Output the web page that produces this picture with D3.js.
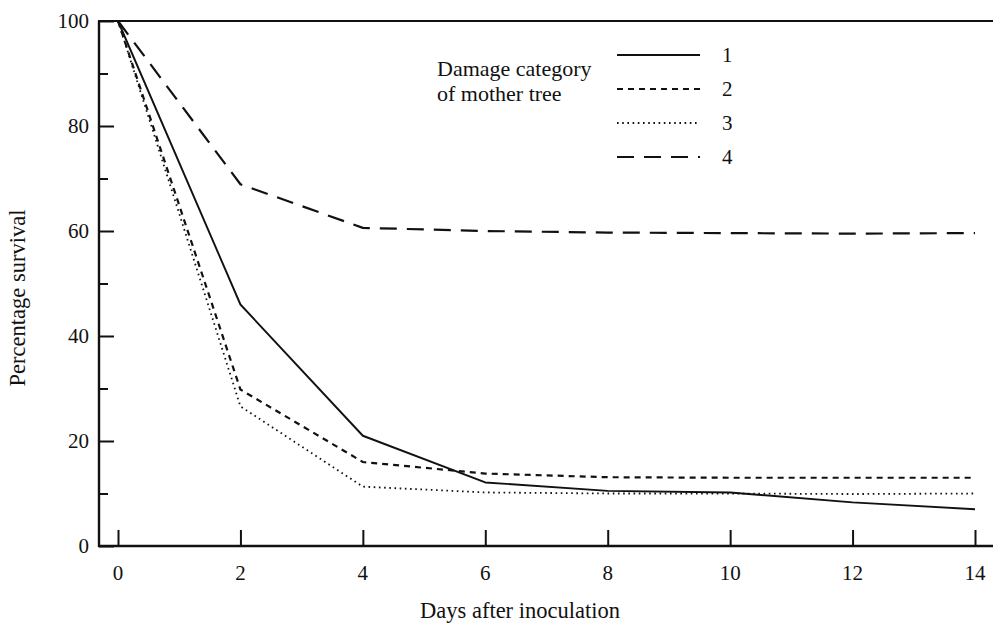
<!DOCTYPE html>
<html>
<head>
<meta charset="utf-8">
<script src="https://cdn.jsdelivr.net/npm/d3@7/dist/d3.min.js"></script>
<style>
  html, body { margin: 0; padding: 0; background: #fff; }
  svg { display: block; }
  text { font-family: "Liberation Serif", "DejaVu Serif", serif; fill: #111; }
</style>
</head>
<body>
<svg id="chart" width="993" height="628"></svg>
<script>
// ---- data ----
const days = [0, 2, 4, 6, 8, 10, 12, 14];
const category1 = [100, 46.0, 21.0, 12.1, 10.5, 10.2, 8.3, 7.0];
const category2 = [100, 29.8, 16.0, 13.8, 13.1, 13.0, 13.0, 13.0];
const category3 = [100, 26.6, 11.3, 10.2, 10.0, 10.0, 9.9, 10.0];
const category4 = [100, 68.9, 60.6, 60.0, 59.7, 59.6, 59.5, 59.6];
const seriesNames = ["1", "2", "3", "4"];
const xTicks = [0, 2, 4, 6, 8, 10, 12, 14];
const yTicks = [0, 20, 40, 60, 80, 100];
const yMinorTicks = [10, 30, 50, 70, 90];
const legendTitle = ["Damage category", "of mother tree"];
const xTitle = "Days after inoculation";
const yTitle = "Percentage survival";

// ---- layout ----
const svg = d3.select("#chart");
const frameLeft = 99, frameRight = 993;
const x = d3.scaleLinear().domain([0, 14]).range([118, 975]);
const y = d3.scaleLinear().domain([0, 100]).range([546, 21]);

const ink = "#111";
const fs = 21;
const fsTitle = 22.5;

// frame: left axis, bottom axis, top border
svg.append("line").attr("x1", frameLeft).attr("x2", frameLeft)
  .attr("y1", y(0) + 1).attr("y2", y(100)).attr("stroke", ink).attr("stroke-width", 2.4);
svg.append("line").attr("x1", frameLeft - 1).attr("x2", frameRight)
  .attr("y1", y(0)).attr("y2", y(0)).attr("stroke", ink).attr("stroke-width", 2.4);
svg.append("line").attr("x1", frameLeft - 1).attr("x2", frameRight)
  .attr("y1", y(100)).attr("y2", y(100)).attr("stroke", ink).attr("stroke-width", 2.2);

// y axis (ticks pointing inward)
const yAxis = d3.axisRight(y).tickValues(yTicks).tickSize(15).tickFormat("");
const gy = svg.append("g").attr("transform", `translate(${frameLeft},0)`).call(yAxis);
gy.select(".domain").remove();
gy.selectAll(".tick line").attr("stroke", ink).attr("stroke-width", 2);
const yMinor = d3.axisRight(y).tickValues(yMinorTicks).tickSize(9).tickFormat("");
const gym = svg.append("g").attr("transform", `translate(${frameLeft},0)`).call(yMinor);
gym.select(".domain").remove();
gym.selectAll(".tick line").attr("stroke", ink).attr("stroke-width", 2);

// y tick labels
svg.append("g").selectAll("text").data(yTicks).join("text")
  .attr("x", 89).attr("y", d => y(d)).attr("dy", "0.35em")
  .attr("text-anchor", "end").attr("font-size", fs).text(d => d);

// x axis ticks pointing up
const xAxis = d3.axisTop(x).tickValues(xTicks).tickSize(16).tickFormat("");
const gx = svg.append("g").attr("transform", `translate(0,${y(0)})`).call(xAxis);
gx.select(".domain").remove();
gx.selectAll(".tick line").attr("stroke", ink).attr("stroke-width", 2);

svg.append("g").selectAll("text").data(xTicks).join("text")
  .attr("x", d => x(d)).attr("y", 580)
  .attr("text-anchor", "middle").attr("font-size", fs).text(d => d);

// axis titles
svg.append("text").attr("x", 520).attr("y", 618).attr("text-anchor", "middle")
  .attr("font-size", fsTitle).text(xTitle);
svg.append("text").attr("transform", "translate(25,298) rotate(-90)")
  .attr("text-anchor", "middle").attr("font-size", fsTitle).text(yTitle);

// ---- series ----
const styles = [
  { dash: null, width: 1.9 },
  { dash: "6,5", width: 2.2 },
  { dash: "1.6,3.6", width: 1.8 },
  { dash: "17,10", width: 2.2 }
];
const allSeries = [category1, category2, category3, category4];
const line = d3.line().x((d, i) => x(days[i])).y(d => y(d));

svg.append("g").selectAll("path").data(allSeries).join("path")
  .attr("d", d => line(d))
  .attr("fill", "none")
  .attr("stroke", ink)
  .attr("stroke-width", (d, i) => styles[i].width)
  .attr("stroke-dasharray", (d, i) => styles[i].dash)
  .attr("stroke-linejoin", "round");

// ---- legend ----
const legendY = d3.scalePoint().domain(seriesNames).range([55, 157]);
const lg = svg.append("g");
lg.selectAll("line").data(seriesNames).join("line")
  .attr("x1", 617).attr("x2", 700)
  .attr("y1", d => legendY(d)).attr("y2", d => legendY(d))
  .attr("stroke", ink)
  .attr("stroke-width", (d, i) => styles[i].width)
  .attr("stroke-dasharray", (d, i) => styles[i].dash);
lg.selectAll("text").data(seriesNames).join("text")
  .attr("x", 722).attr("y", d => legendY(d) + 7)
  .attr("font-size", fs).text(d => d);
lg.append("g").selectAll("text").data(legendTitle).join("text")
  .attr("x", 437).attr("y", (d, i) => 76 + i * 25)
  .attr("font-size", 22).text(d => d);
</script>
</body>
</html>
